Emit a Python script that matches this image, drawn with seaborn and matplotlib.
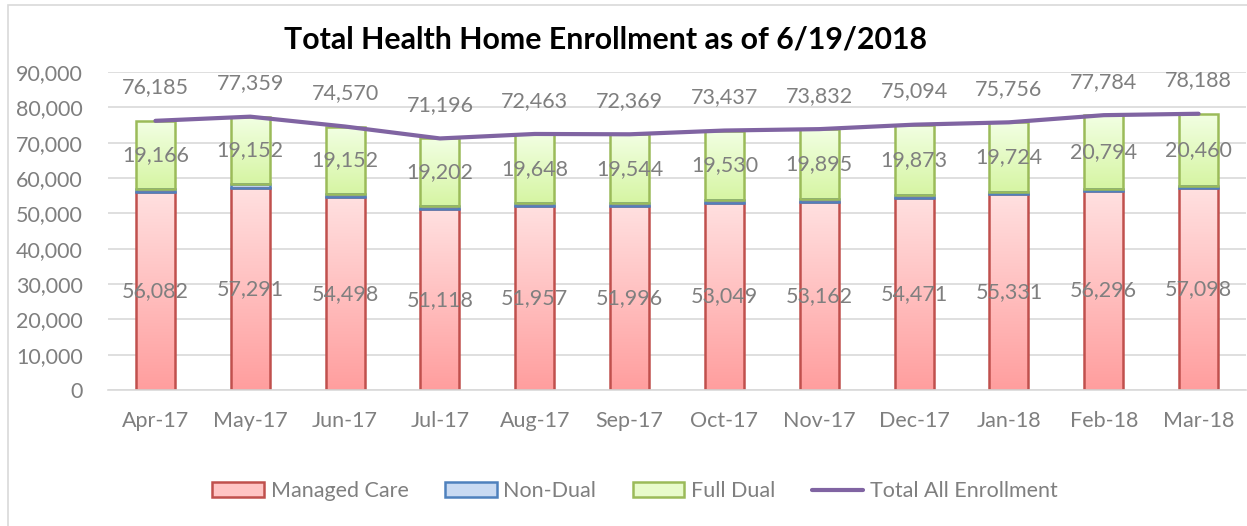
import numpy as np
import pandas as pd
import matplotlib
matplotlib.use("Agg")
import matplotlib.pyplot as plt
import matplotlib.colors as mcolors
from matplotlib.patches import Rectangle
from matplotlib.lines import Line2D
from matplotlib.ticker import FuncFormatter, MultipleLocator
import seaborn as sns

# -------------------------------
# Data
# -------------------------------
months = ["Apr-17", "May-17", "Jun-17", "Jul-17", "Aug-17", "Sep-17",
          "Oct-17", "Nov-17", "Dec-17", "Jan-18", "Feb-18", "Mar-18"]
managed_care = [56082, 57291, 54498, 51118, 51957, 51996,
                53049, 53162, 54471, 55331, 56296, 57098]
non_dual = [937, 916, 920, 876, 858, 829, 858, 775, 750, 701, 694, 630]
full_dual = [19166, 19152, 19152, 19202, 19648, 19544,
             19530, 19895, 19873, 19724, 20794, 20460]
total_all = [76185, 77359, 74570, 71196, 72463, 72369,
             73437, 73832, 75094, 75756, 77784, 78188]

df = pd.DataFrame({"month": months, "mc": managed_care, "nd": non_dual,
                   "fd": full_dual, "total": total_all})
df["nd_bottom"] = df["mc"]
df["fd_bottom"] = df["mc"] + df["nd"]

sns.set_theme(style="white")
plt.rcParams["font.family"] = ["Lato", "DejaVu Sans"]

label_gray = "#7F7F7F"
red_edge, blue_edge, green_edge = "#C0504D", "#4F81BD", "#9BBB59"
line_col = "#8064A2"

fig = plt.figure(figsize=(12.47, 5.26), dpi=100)
ax = fig.add_axes([108 / 1247, 136 / 526, 1138 / 1247, 318 / 526])

bar_w = 0.41
segments = [
    ("mc", None, red_edge, ("#FF9E9E", "#FFE0E0")),
    ("nd", "nd_bottom", blue_edge, ("#A9C4EB", "#DDE8F8")),
    ("fd", "fd_bottom", green_edge, ("#D6F5A3", "#F2FFE3")),
]

for col, bottom_col, edge, (c_low, c_high) in segments:
    n_before = len(ax.patches)
    kws = {}
    if bottom_col is not None:
        kws["bottom"] = df[bottom_col].values
    sns.barplot(data=df, x="month", y=col, order=months, width=bar_w,
                color="white", facecolor="none", edgecolor=edge, linewidth=1.8,
                ax=ax, **kws)
    # vertical gradient inside each bar segment
    cmap = mcolors.LinearSegmentedColormap.from_list(col, [c_low, c_high])
    grad = np.linspace(0, 1, 128).reshape(-1, 1)
    for patch in ax.patches[n_before:]:
        x0, y0 = patch.get_x(), patch.get_y()
        im = ax.imshow(grad, cmap=cmap, aspect="auto", origin="lower",
                       extent=[x0, x0 + patch.get_width(), y0, y0 + patch.get_height()],
                       zorder=1.5)
        im.set_clip_path(patch)
        patch.set_zorder(2)

# total line
sns.lineplot(x=np.arange(len(months)), y=df["total"], color=line_col,
             linewidth=3, ax=ax, zorder=3)

# data labels
for i, row in df.iterrows():
    ax.text(i, row["mc"] / 2, f"{row['mc']:,}", ha="center", va="center",
            fontsize=15.5, color=label_gray, zorder=4)
    ax.text(i, row["fd_bottom"] + row["fd"] / 2, f"{row['fd']:,}", ha="center",
            va="center", fontsize=15.5, color=label_gray, zorder=4)
    ax.annotate(f"{row['total']:,}", (i, row["total"]), xytext=(0, 24),
                textcoords="offset points", ha="center", va="center",
                fontsize=15.5, color=label_gray, zorder=4)

# axes styling
ax.set_xlim(-0.5, len(months) - 0.5)
ax.set_ylim(0, 90000)
ax.yaxis.set_major_locator(MultipleLocator(10000))
ax.yaxis.set_major_formatter(FuncFormatter(lambda v, p: f"{int(v):,}"))
ax.grid(axis="y", color="#D9D9D9", linewidth=1.2)
ax.set_axisbelow(True)
for s in ["top", "right", "left"]:
    ax.spines[s].set_visible(False)
ax.spines["bottom"].set_color("#D9D9D9")
ax.spines["bottom"].set_linewidth(1.2)
ax.set_xlabel("")
ax.set_ylabel("")
ax.tick_params(axis="y", length=0, pad=18, labelsize=15.5, labelcolor=label_gray)
ax.tick_params(axis="x", which="major", length=0, pad=15, labelsize=15.5,
               labelcolor=label_gray)
ax.set_xticks(np.arange(-0.5, len(months), 1), minor=True)
ax.tick_params(axis="x", which="minor", length=6, width=1.2, color="#D9D9D9")

fig.text(606 / 1247, 1 - 40 / 526, "Total Health Home Enrollment as of 6/19/2018",
         ha="center", va="center", fontsize=21.8, fontweight="bold", color="black")

# legend
handles = [
    Rectangle((0, 0), 1, 1, facecolor="#FFC4C4", edgecolor=red_edge, linewidth=1.8),
    Rectangle((0, 0), 1, 1, facecolor="#C9DAF2", edgecolor=blue_edge, linewidth=1.8),
    Rectangle((0, 0), 1, 1, facecolor="#E8FBCB", edgecolor=green_edge, linewidth=1.8),
    Line2D([0], [0], color=line_col, linewidth=3),
]
fig.legend(handles, ["Managed Care", "Non-Dual", "Full Dual", "Total All Enrollment"],
           loc="center", bbox_to_anchor=(635 / 1247, 1 - 491 / 526), ncol=4,
           frameon=False, fontsize=15.5, labelcolor=label_gray, handlelength=2.4,
           handleheight=0.65, handletextpad=0.3, columnspacing=1.7)

# chart border
fig.patches.append(Rectangle((8 / 1247, -0.01), 1.5, 1 - 5 / 526 + 0.01,
                             transform=fig.transFigure, fill=False,
                             edgecolor="#D9D9D9", linewidth=1.2))

fig.savefig("out.png", dpi=100)
